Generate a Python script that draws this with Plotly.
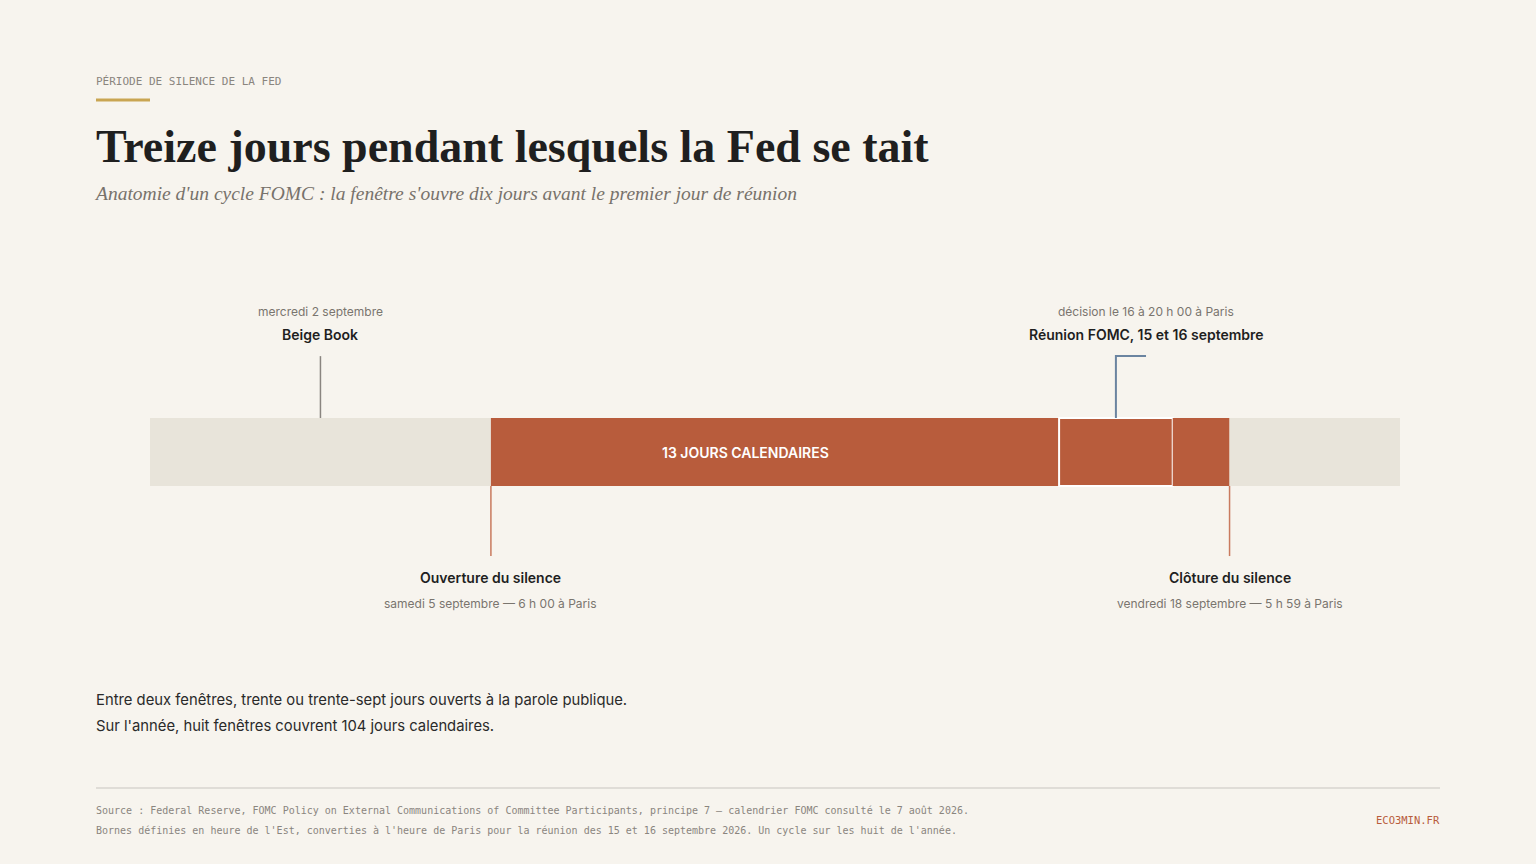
import plotly.graph_objects as go

BG = '#f7f4ee'
RUST = '#b85c3c'
GREY_BAR = '#e8e4da'
INK = '#1f1f1f'
MUTED = '#7a756e'
SLATE = '#6b84a0'

# jours comptés depuis le dimanche 30 août, 6 h 00 (heure de Paris)
segment_start = [0, 6, 16, 18, 19]
segment_length = [6, 10, 2, 1, 3]
segment_kind = ['hors', 'silence', 'reunion', 'silence', 'hors']

beige_book_day = 3
fomc_day = 17
window_open_day = 6
window_close_day = 19

W, H = 1536, 864
L, R, T, B = 150, 136, 248, 208


def px(x):
    return (x - L) / (W - L - R)


def py(y):
    return (H - B - y) / (H - T - B)


colors = [RUST if k != 'hors' else GREY_BAR for k in segment_kind]
line_w = [2 if k == 'reunion' else 0 for k in segment_kind]

fig = go.Figure()
fig.add_trace(go.Bar(
    y=[0] * len(segment_start), x=segment_length, base=segment_start,
    orientation='h', width=1,
    marker=dict(color=colors, line=dict(color='white', width=line_w)),
    hoverinfo='skip', showlegend=False,
))

# connecteurs
fig.add_trace(go.Scatter(x=[beige_book_day, beige_book_day], y=[0.5, 1.41],
                         mode='lines', line=dict(color='#8a8580', width=1.5),
                         hoverinfo='skip', showlegend=False))
fig.add_trace(go.Scatter(x=[fomc_day, fomc_day, fomc_day + 0.53], y=[0.5, 1.41, 1.41],
                         mode='lines', line=dict(color=SLATE, width=2),
                         hoverinfo='skip', showlegend=False))
for d in [window_open_day, window_close_day]:
    fig.add_trace(go.Scatter(x=[d, d], y=[-0.5, -1.53], mode='lines',
                             line=dict(color='#c97a5e', width=1.5),
                             hoverinfo='skip', showlegend=False))

ann = []


def note(x, y, text, size, color, family='Inter', anchor='center', weight=400, xref='x', yref='paper'):
    ann.append(dict(x=x, y=y, xref=xref, yref=yref, text=text, showarrow=False,
                    xanchor=anchor, yanchor='middle',
                    font=dict(family=family, size=size, color=color, weight=weight)))


# étiquettes du haut
note(beige_book_day, py(311), 'mercredi 2 septembre', 12, MUTED)
note(beige_book_day, py(334), 'Beige Book', 14, INK, weight=600)
note(fomc_day + 0.53, py(311), 'décision le 16 à 20 h 00 à Paris', 12, MUTED)
note(fomc_day + 0.53, py(334), 'Réunion FOMC, 15 et 16 septembre', 14, INK, weight=600)

# étiquettes du bas
note(window_open_day, py(577), 'Ouverture du silence', 14, INK, weight=600)
note(window_open_day, py(603), 'samedi 5 septembre — 6 h 00 à Paris', 12, MUTED)
note(window_close_day, py(577), 'Clôture du silence', 14, INK, weight=600)
note(window_close_day, py(603), 'vendredi 18 septembre — 5 h 59 à Paris', 12, MUTED)

note(px(745), py(452), '13 JOURS CALENDAIRES', 14, 'white', weight=600, xref='paper')

# en-tête
note(px(94), py(82), 'PÉRIODE DE SILENCE DE LA FED', 11, '#8a857e',
     family='DejaVu Sans Mono', anchor='left', xref='paper')
note(px(94), py(146), 'Treize jours pendant lesquels la Fed se tait', 46, INK,
     family='Liberation Serif', anchor='left', weight=700, xref='paper')
note(px(92), py(193), "<i>Anatomie d'un cycle FOMC : la fenêtre s'ouvre dix jours avant le premier jour de réunion</i>",
     19.5, '#77726b', family='Liberation Serif', anchor='left', xref='paper')

# texte
note(px(94), py(700), 'Entre deux fenêtres, trente ou trente-sept jours ouverts à la parole publique.',
     14.8, '#2a2a2a', anchor='left', xref='paper')
note(px(94), py(726), "Sur l'année, huit fenêtres couvrent 104 jours calendaires.",
     14.8, '#2a2a2a', anchor='left', xref='paper')

# pied
note(px(94), py(810), 'Source : Federal Reserve, FOMC Policy on External Communications of Committee Participants, '
     'principe 7 — calendrier FOMC consulté le 7 août 2026.', 10, '#8a857e',
     family='DejaVu Sans Mono', anchor='left', xref='paper')
note(px(94), py(830), "Bornes définies en heure de l'Est, converties à l'heure de Paris pour la réunion "
     "des 15 et 16 septembre 2026. Un cycle sur les huit de l'année.", 10, '#8a857e',
     family='DejaVu Sans Mono', anchor='left', xref='paper')
note(px(1442), py(820), 'ECO3MIN.FR', 10.5, RUST, family='DejaVu Sans Mono', anchor='right', xref='paper')

shapes = [
    dict(type='line', xref='paper', yref='paper', x0=px(96), x1=px(150), y0=py(100), y1=py(100),
         line=dict(color='#c9a552', width=3)),
    dict(type='line', xref='paper', yref='paper', x0=px(96), x1=px(1440), y0=py(788), y1=py(788),
         line=dict(color='#c8c5c0', width=1)),
]

fig.update_layout(
    width=W, height=H,
    margin=dict(l=L, r=R, t=T, b=B),
    paper_bgcolor=BG, plot_bgcolor=BG,
    barmode='overlay',
    xaxis=dict(range=[0, 22], visible=False, fixedrange=True),
    yaxis=dict(range=[-3, 3], visible=False, fixedrange=True),
    annotations=ann, shapes=shapes,
    font=dict(family='Inter'),
)

fig.write_html('out.html', config={'displayModeBar': False},
               post_script="document.body.style.margin='0';document.body.style.background='%s';" % BG)
